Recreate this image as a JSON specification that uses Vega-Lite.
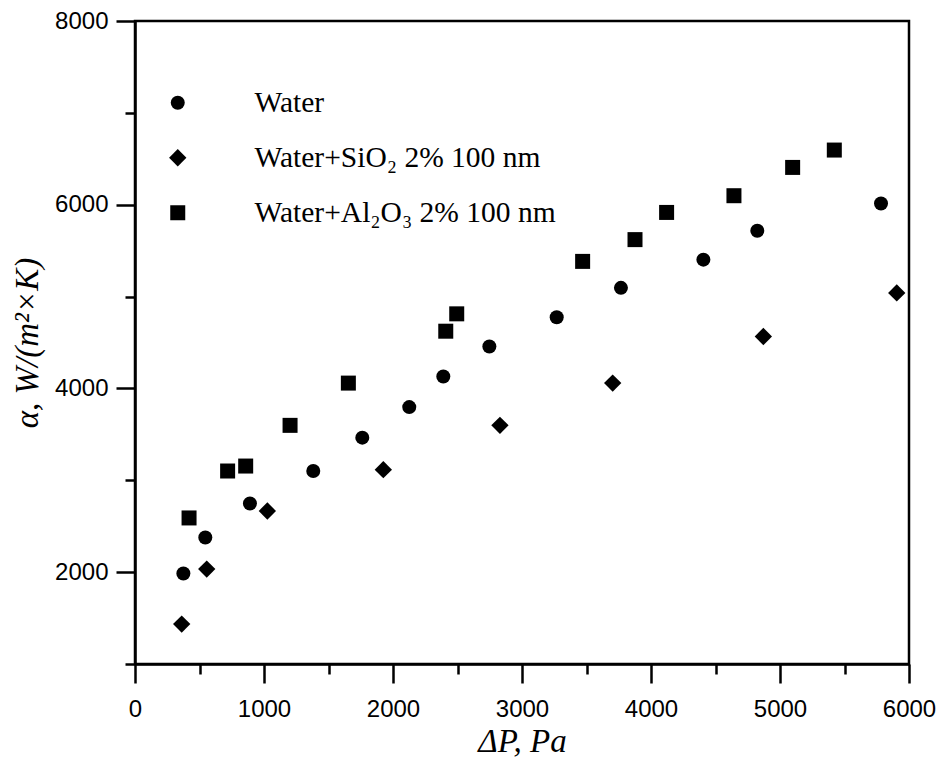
{
  "$schema": "https://vega.github.io/schema/vega-lite/v6.json",
  "autosize": "none",
  "width": 774,
  "height": 643,
  "padding": {"left": 135, "top": 21, "right": 30, "bottom": 99},
  "background": "white",
  "config": {
    "view": {"stroke": "black", "strokeWidth": 2.5},
    "axis": {
      "domainColor": "black",
      "domainWidth": 2.5,
      "tickColor": "black",
      "tickWidth": 2.5,
      "grid": false,
      "labelFont": "Liberation Sans",
      "labelFontSize": 24,
      "labelColor": "black",
      "titleFont": "Liberation Serif",
      "titleFontStyle": "italic",
      "titleFontWeight": "normal",
      "titleFontSize": 33,
      "titleColor": "black"
    }
  },
  "data": {
    "values": [
      {"series": "Water", "dp": 375, "alpha": 1986},
      {"series": "Water", "dp": 545, "alpha": 2377},
      {"series": "Water", "dp": 891, "alpha": 2747},
      {"series": "Water", "dp": 1382, "alpha": 3101},
      {"series": "Water", "dp": 1762, "alpha": 3464},
      {"series": "Water", "dp": 2126, "alpha": 3797},
      {"series": "Water", "dp": 2390, "alpha": 4130},
      {"series": "Water", "dp": 2747, "alpha": 4457},
      {"series": "Water", "dp": 3269, "alpha": 4775},
      {"series": "Water", "dp": 3767, "alpha": 5095},
      {"series": "Water", "dp": 4406, "alpha": 5402},
      {"series": "Water", "dp": 4824, "alpha": 5717},
      {"series": "Water", "dp": 5783, "alpha": 6014},
      {"series": "Water+SiO₂ 2% 100 nm", "dp": 362, "alpha": 1435},
      {"series": "Water+SiO₂ 2% 100 nm", "dp": 556, "alpha": 2033},
      {"series": "Water+SiO₂ 2% 100 nm", "dp": 1026, "alpha": 2666},
      {"series": "Water+SiO₂ 2% 100 nm", "dp": 1925, "alpha": 3116},
      {"series": "Water+SiO₂ 2% 100 nm", "dp": 2829, "alpha": 3598},
      {"series": "Water+SiO₂ 2% 100 nm", "dp": 3703, "alpha": 4058},
      {"series": "Water+SiO₂ 2% 100 nm", "dp": 4871, "alpha": 4565},
      {"series": "Water+SiO₂ 2% 100 nm", "dp": 5905, "alpha": 5040},
      {"series": "Water+Al₂O₃ 2% 100 nm", "dp": 419, "alpha": 2590},
      {"series": "Water+Al₂O₃ 2% 100 nm", "dp": 718, "alpha": 3101},
      {"series": "Water+Al₂O₃ 2% 100 nm", "dp": 858, "alpha": 3155},
      {"series": "Water+Al₂O₃ 2% 100 nm", "dp": 1202, "alpha": 3598},
      {"series": "Water+Al₂O₃ 2% 100 nm", "dp": 1654, "alpha": 4058},
      {"series": "Water+Al₂O₃ 2% 100 nm", "dp": 2409, "alpha": 4623},
      {"series": "Water+Al₂O₃ 2% 100 nm", "dp": 2494, "alpha": 4812},
      {"series": "Water+Al₂O₃ 2% 100 nm", "dp": 3470, "alpha": 5383},
      {"series": "Water+Al₂O₃ 2% 100 nm", "dp": 3876, "alpha": 5620},
      {"series": "Water+Al₂O₃ 2% 100 nm", "dp": 4121, "alpha": 5916},
      {"series": "Water+Al₂O₃ 2% 100 nm", "dp": 4643, "alpha": 6098},
      {"series": "Water+Al₂O₃ 2% 100 nm", "dp": 5098, "alpha": 6406},
      {"series": "Water+Al₂O₃ 2% 100 nm", "dp": 5421, "alpha": 6595}
    ]
  },
  "mark": {"type": "point", "filled": true, "opacity": 1, "color": "black"},
  "encoding": {
    "x": {
      "field": "dp",
      "type": "quantitative",
      "scale": {"domain": [0, 6000], "nice": false, "zero": false},
      "axis": {
        "title": "ΔP, Pa",
        "values": [0, 500, 1000, 1500, 2000, 2500, 3000, 3500, 4000, 4500, 5000, 5500, 6000],
        "labelExpr": "datum.value % 1000 === 0 ? datum.label : ''",
        "format": "d",
        "tickSize": {"condition": {"test": "datum.value % 1000 === 0", "value": 19}, "value": 10},
        "labelPadding": 14,
        "titlePadding": 4,
        "labelFlush": false
      }
    },
    "y": {
      "field": "alpha",
      "type": "quantitative",
      "scale": {"domain": [1000, 8000], "nice": false, "zero": false},
      "axis": {
        "title": "α, W/(m²×K)",
        "values": [1000, 2000, 3000, 4000, 5000, 6000, 7000, 8000],
        "labelExpr": "datum.value % 2000 === 0 ? datum.label : ''",
        "format": "d",
        "tickSize": {"condition": {"test": "datum.value % 2000 === 0", "value": 19}, "value": 10},
        "labelPadding": 8,
        "titlePadding": 10,
        "labelFlush": false
      }
    },
    "shape": {
      "field": "series",
      "type": "nominal",
      "scale": {
        "domain": ["Water", "Water+SiO₂ 2% 100 nm", "Water+Al₂O₃ 2% 100 nm"],
        "range": ["circle", "diamond", "square"]
      },
      "legend": {
        "title": null,
        "orient": "none",
        "legendX": 28,
        "legendY": 67,
        "padding": 0,
        "symbolFillColor": "black",
        "symbolStrokeColor": "black",
        "symbolOpacity": 1,
        "labelFont": "Liberation Serif",
        "labelFontSize": 29.5,
        "labelColor": "black",
        "labelOffset": 62,
        "rowPadding": 24,
        "labelLimit": 400
      }
    },
    "size": {
      "field": "series",
      "type": "nominal",
      "scale": {
        "type": "ordinal",
        "domain": ["Water", "Water+SiO₂ 2% 100 nm", "Water+Al₂O₃ 2% 100 nm"],
        "range": [196, 300, 225]
      }
    }
  }
}
